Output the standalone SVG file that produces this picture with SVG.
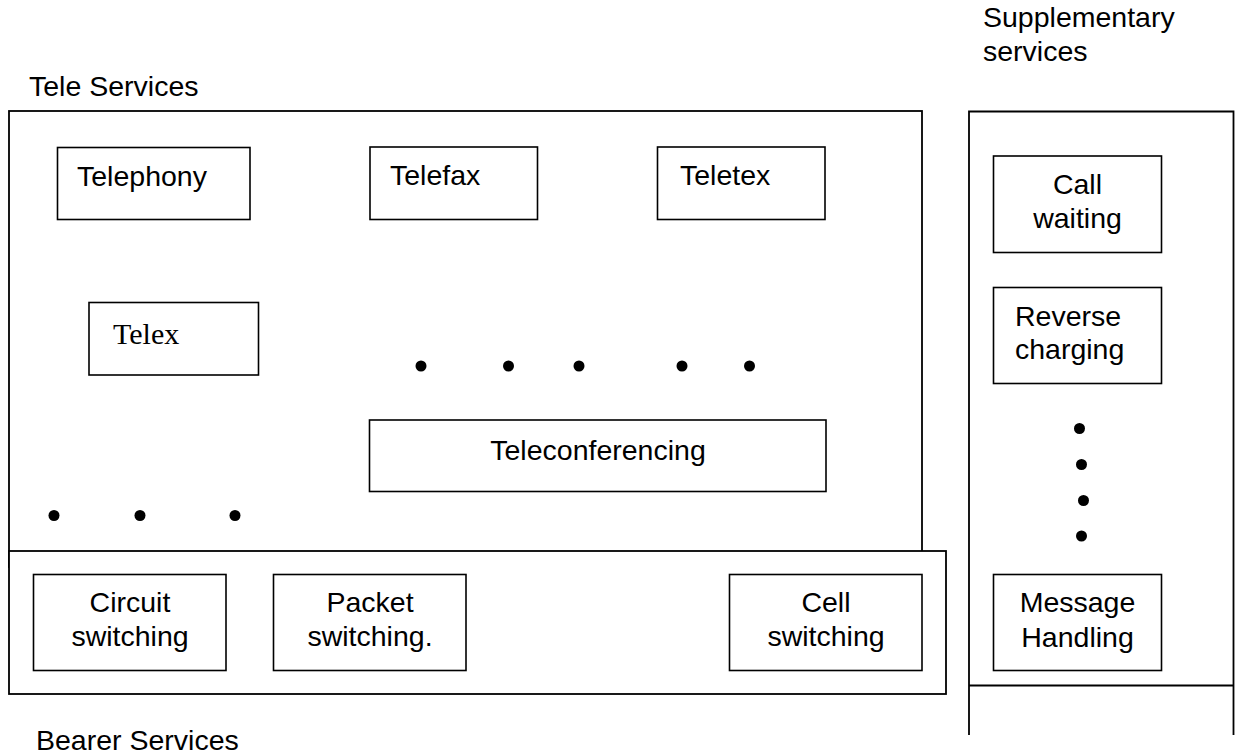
<svg xmlns="http://www.w3.org/2000/svg" width="1235" height="754" viewBox="0 0 1235 754">
<style>
.box{fill:#fff;stroke:#000;stroke-width:1.6}
.frame{fill:#fff;stroke:#000;stroke-width:1.8}
.t{font-family:"Liberation Sans",Arial,sans-serif;font-size:28.5px;fill:#000}
.c{text-anchor:middle}
.s{font-family:"Liberation Serif","Times New Roman",serif;font-size:30px;fill:#000}
.dot{fill:#000}
</style>
<rect width="1235" height="754" fill="#fff"/>

<g id="labels">
<text class="t" x="983" y="27">Supplementary</text>
<text class="t" x="983" y="61">services</text>
<text class="t" x="29" y="96">Tele Services</text>
<text class="t" x="36" y="750">Bearer Services</text>
</g>

<g id="tele-services">
<rect class="frame" x="9" y="111" width="913" height="456"/>
</g>

<g id="supplementary-services">
<path d="M969,735 V111.5 H1233.5 V735 M969,685.5 H1233.5" fill="none" stroke="#000" stroke-width="1.8"/>
</g>

<g id="telephony">
<rect class="box" x="57.5" y="147.5" width="192.5" height="72"/>
<text class="t" x="77" y="186">Telephony</text>
</g>
<g id="telefax">
<rect class="box" x="370" y="147" width="167.5" height="72.5"/>
<text class="t" x="390" y="185">Telefax</text>
</g>
<g id="teletex">
<rect class="box" x="657.5" y="147" width="167.5" height="72.5"/>
<text class="t" x="680" y="185">Teletex</text>
</g>
<g id="telex">
<rect class="box" x="89" y="302.5" width="169.5" height="72.5"/>
<text class="s" x="113" y="344">Telex</text>
</g>
<g id="teleconferencing">
<rect class="box" x="369.5" y="420" width="456.5" height="71.5"/>
<text class="t c" x="598" y="460">Teleconferencing</text>
</g>

<g id="dots">
<circle class="dot" cx="421" cy="366" r="5.5"/>
<circle class="dot" cx="508.5" cy="366" r="5.5"/>
<circle class="dot" cx="579" cy="366" r="5.5"/>
<circle class="dot" cx="682" cy="366" r="5.5"/>
<circle class="dot" cx="749.5" cy="366" r="5.5"/>
<circle class="dot" cx="54" cy="515.5" r="5.5"/>
<circle class="dot" cx="140" cy="515.5" r="5.5"/>
<circle class="dot" cx="235" cy="515.5" r="5.5"/>
<circle class="dot" cx="1079.5" cy="428.5" r="5.5"/>
<circle class="dot" cx="1081.5" cy="464.5" r="5.5"/>
<circle class="dot" cx="1083.5" cy="500.5" r="5.5"/>
<circle class="dot" cx="1081.5" cy="536" r="5.5"/>
</g>

<g id="bearer-services">
<rect class="frame" x="9" y="551" width="937" height="143"/>
</g>
<g id="circuit-switching">
<rect class="box" x="33.5" y="574.5" width="192.5" height="96"/>
<text class="t c" x="130" y="611.5">Circuit</text>
<text class="t c" x="130" y="645.5">switching</text>
</g>
<g id="packet-switching">
<rect class="box" x="273.5" y="574.5" width="192.5" height="96"/>
<text class="t c" x="370" y="611.5">Packet</text>
<text class="t c" x="370" y="645.5">switching.</text>
</g>
<g id="cell-switching">
<rect class="box" x="729.5" y="574.5" width="192.5" height="96"/>
<text class="t c" x="826" y="611.5">Cell</text>
<text class="t c" x="826" y="645.5">switching</text>
</g>

<g id="call-waiting">
<rect class="box" x="993.5" y="156" width="168" height="96.5"/>
<text class="t c" x="1077.5" y="194">Call</text>
<text class="t c" x="1077.5" y="228">waiting</text>
</g>
<g id="reverse-charging">
<rect class="box" x="993.5" y="287.5" width="168" height="96"/>
<text class="t" x="1015" y="325.5">Reverse</text>
<text class="t" x="1015" y="359">charging</text>
</g>
<g id="message-handling">
<rect class="box" x="993.5" y="574.5" width="168" height="96"/>
<text class="t c" x="1077.5" y="612">Message</text>
<text class="t c" x="1077.5" y="647">Handling</text>
</g>

<g id="connectors"></g>
</svg>
